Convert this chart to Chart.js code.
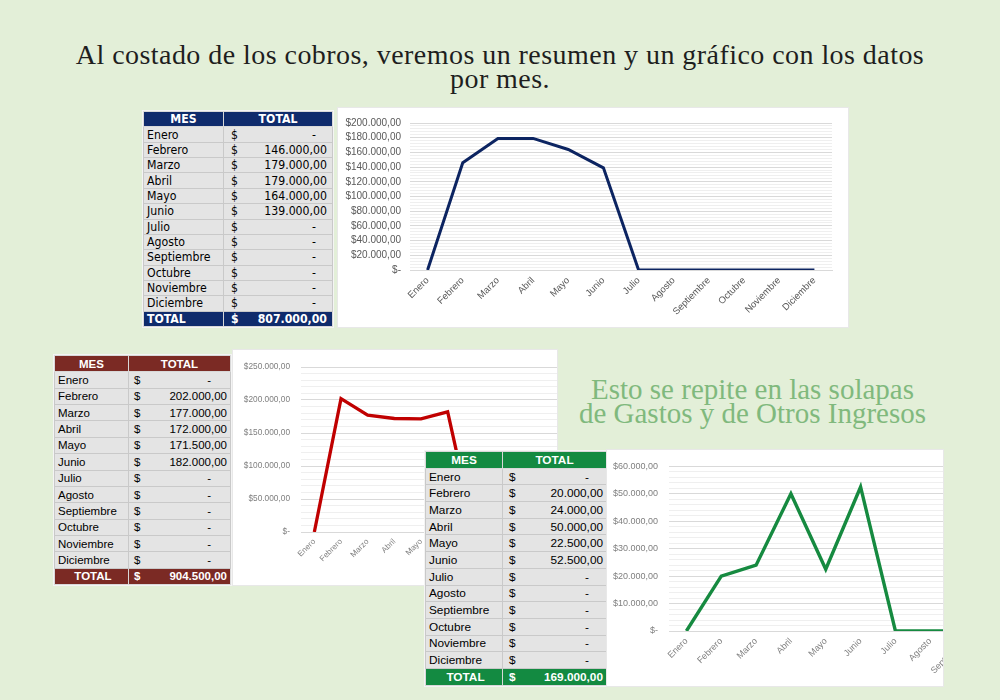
<!DOCTYPE html>
<html><head><meta charset="utf-8">
<script src="https://cdn.jsdelivr.net/npm/chart.js"></script>
<style>
html,body{margin:0;padding:0}
body{width:1000px;height:700px;background:#e3efd8;position:relative;overflow:hidden;font-family:'Liberation Sans',Arial,sans-serif}
.title{position:absolute;left:0;top:43px;width:1000px;text-align:center;font-family:'Liberation Serif',serif;font-size:28px;letter-spacing:0.45px;line-height:24px;color:#1e1e1e}
.note{position:absolute;left:540px;top:377px;width:425px;text-align:center;font-family:'Liberation Serif',serif;font-size:29px;line-height:24px;color:#80b97d}
.box{position:absolute;background:#fff;overflow:hidden;box-shadow:0 0 0 1px #e8e8e8}
.tbl{position:absolute;border-collapse:collapse;table-layout:fixed;background:#fff;outline:1px solid #f4f4f4}
.tbl td{padding:0;border:1px solid #c9c9c9;background:#e4e4e4;white-space:nowrap;overflow:hidden;color:#000}
.tbl td.hd{color:#fff;font-weight:bold;text-align:center;border-color:#d8d8d8}
.tbl td.m{padding-left:3px}
.v{display:flex;justify-content:space-between}
</style>
</head><body>
<div class="title">Al costado de los cobros, veremos un resumen y un gráfico con los datos<br>por mes.</div>
<div class="note">Esto se repite en las solapas<br>de Gastos y de Otros Ingresos</div>

<div id="p1"></div>
<div class="box" id="b1" style="left:338px;top:108px;width:510px;height:219px"><canvas id="c1" width="510" height="219"></canvas></div>

<div id="p2"></div>
<div class="box" id="b2" style="left:233px;top:350px;width:324px;height:235px"><canvas id="c2" width="405" height="235"></canvas></div>

<div id="p3"></div>
<div class="box" id="b3" style="left:607px;top:450px;width:336px;height:236px"><canvas id="c3" width="496" height="236"></canvas></div>

<script>
// ---- data ----
const meses = ['Enero','Febrero','Marzo','Abril','Mayo','Junio','Julio','Agosto','Septiembre','Octubre','Noviembre','Diciembre'];
const cobros = [0,146000,179000,179000,164000,139000,0,0,0,0,0,0];
const gastos = [0,202000,177000,172000,171500,182000,0,0,0,0,0,0];
const otrosIngresos = [0,20000,24000,50000,22500,52500,0,0,0,0,0,0];
const totalCobros = 807000;
const totalGastos = 904500;
const totalOtros = 169000;
const headerLabels = ['MES','TOTAL'];
const totalLabel = 'TOTAL';

function fmt(v){
  const s = Math.round(v).toString().replace(/\B(?=(\d{3})+(?!\d))/g,'.');
  return s + ',00';
}
function tickFmt(v){ return v === 0 ? '$-' : '$' + fmt(v); }

function makeTable(holder, values, total, st){
  let h = '<table class="tbl" style="left:'+st.left+'px;top:'+st.top+'px;width:'+(st.w1+st.w2)+'px;font-family:'+st.font+';font-size:'+st.size+'px">';
  h += '<colgroup><col style="width:'+st.w1+'px"><col style="width:'+st.w2+'px"></colgroup>';
  h += '<tr style="height:'+st.rh+'px"><td class="hd" style="background:'+st.color+'">'+headerLabels[0]+'</td><td class="hd" style="background:'+st.color+'">'+headerLabels[1]+'</td></tr>';
  values.forEach((v,i)=>{
    const val = v === 0 ? '<span style="padding-right:'+st.dashPad+'px">-</span>' : '<span style="padding-right:'+st.valPad+'px">'+fmt(v)+'</span>';
    h += '<tr style="height:'+st.rh+'px"><td class="m">'+meses[i]+'</td><td><div class="v"><span style="padding-left:'+st.dolPad+'px">$</span>'+val+'</div></td></tr>';
  });
  h += '<tr style="height:'+st.rh+'px"><td class="hd" style="background:'+st.color+';text-align:'+st.totAlign+';padding-left:3px">'+totalLabel+'</td><td class="hd" style="background:'+st.color+'"><div class="v"><span style="padding-left:'+st.dolPad+'px">$</span><span style="padding-right:'+st.valPad+'px">'+fmt(total)+'</span></div></td></tr>';
  h += '</table>';
  document.getElementById(holder).innerHTML = h;
}

makeTable('p1', cobros, totalCobros, {left:143,top:111,w1:80,w2:109,rh:15.36,font:"'Liberation Sans Narrow','DejaVu Sans Condensed',sans-serif",size:12.2,color:'#0f2b6c',dashPad:16,valPad:5,dolPad:7,totAlign:'left'});
makeTable('p2', gastos, totalGastos, {left:54,top:355,w1:74,w2:102,rh:16.36,font:"'Liberation Sans',Arial,sans-serif",size:11.5,color:'#7b2a24',dashPad:19,valPad:3,dolPad:5,totAlign:'center'});
makeTable('p3', otrosIngresos, totalOtros, {left:425,top:451,w1:77,w2:104,rh:16.7,font:"'Liberation Sans',Arial,sans-serif",size:11.8,color:'#138a41',dashPad:17,valPad:3,dolPad:6,totAlign:'center'});

function makeChart(id, values, color, c){
  new Chart(document.getElementById(id), {
    type:'line',
    data:{labels:meses, datasets:[{data:values, borderColor:color, borderWidth:c.lw, pointRadius:0, tension:0, fill:false, borderJoinStyle:'miter'}]},
    options:{
      responsive:false, animation:false, devicePixelRatio:1,
      layout:{padding:{left:0,top:c.padTop,right:c.padRight,bottom:0}},
      plugins:{legend:{display:false},tooltip:{enabled:false}},
      scales:{
        x:{
          offset:true,
          grid:{display:false, drawTicks:false},
          border:{display:true,color:'#d9d9d9'},
          ticks:{minRotation:45,maxRotation:45,autoSkip:false,padding:c.xPad,color:c.tickColor,font:{family:c.font,size:c.xSize}},
          afterFit:(s)=>{ s.height = c.xHeight; }
        },
        y:{
          min:0, max:c.max,
          grid:{drawTicks:false, color:(ctx)=> (Math.round(ctx.tick.value) % c.major === 0) ? '#d9d9d9' : '#efefef', lineWidth:1},
          border:{display:false},
          ticks:{stepSize:c.minor, autoSkip:false, padding:c.yPad, color:c.tickColor, font:{family:c.font,size:c.ySize},
                 callback:(v)=> (Math.round(v) % c.major === 0) ? tickFmt(v) : ''},
          afterFit:(s)=>{ s.width = c.yWidth; }
        }
      }
    }
  });
}

makeChart('c1', cobros, '#0c2461', {max:200000,major:20000,minor:4000,padTop:14,padRight:16,xHeight:57,yWidth:72,xPad:5,yPad:9,tickColor:'#595959',font:"'Liberation Sans Narrow','Liberation Sans',sans-serif",xSize:9.5,ySize:10,lw:3});
makeChart('c2', gastos, '#c00000', {max:250000,major:50000,minor:10000,padTop:17,padRight:17,xHeight:53,yWidth:68,xPad:5,yPad:11,tickColor:'#7f7f7f',font:"'Liberation Sans',sans-serif",xSize:8,ySize:8.3,lw:3.3});
makeChart('c3', otrosIngresos, '#168a40', {max:60000,major:10000,minor:2000,padTop:13,padRight:16,xHeight:55,yWidth:62,xPad:5,yPad:11,tickColor:'#7f7f7f',font:"'Liberation Sans',sans-serif",xSize:9,ySize:9,lw:3.4});
</script>
</body></html>
